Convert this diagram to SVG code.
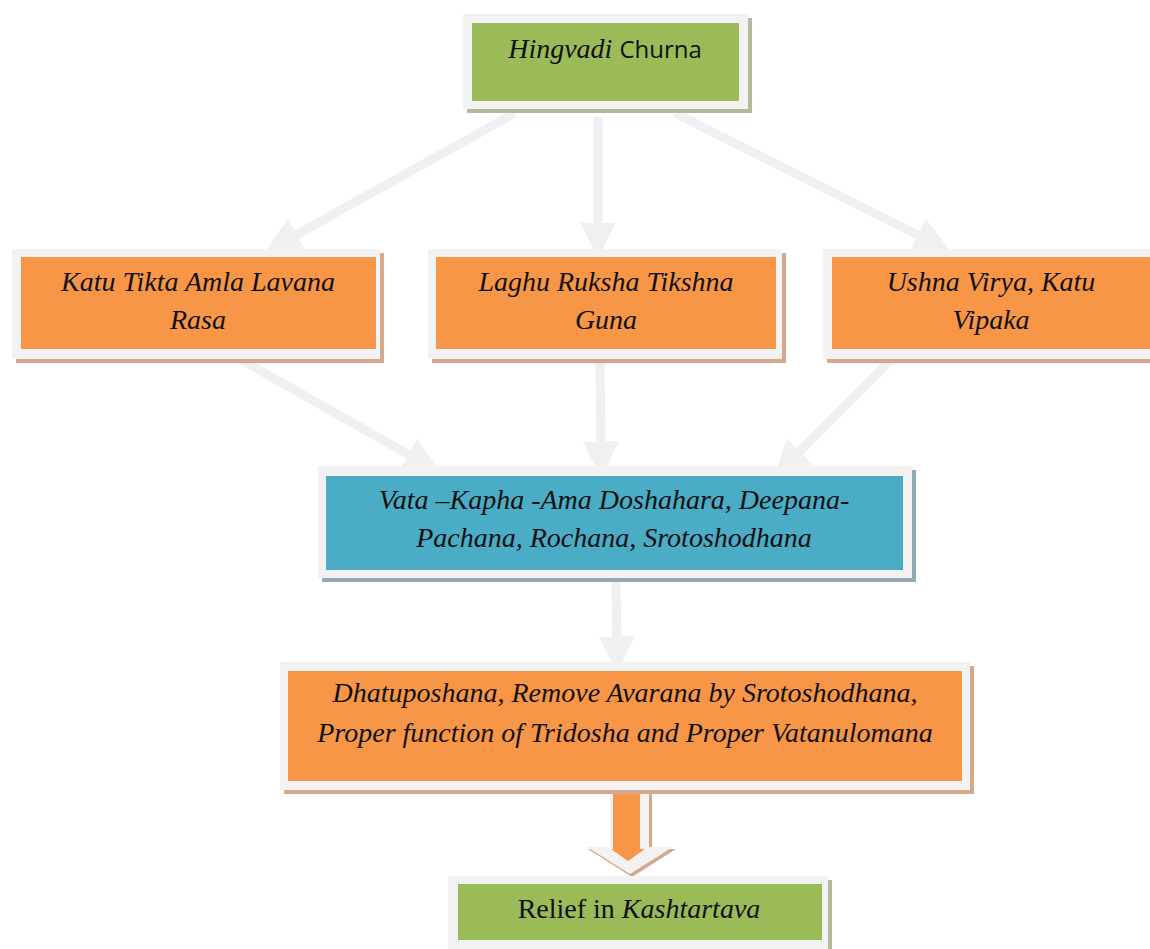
<svg xmlns="http://www.w3.org/2000/svg" width="1150" height="949" viewBox="0 0 1150 949">
<style>
.frame{fill:#f2f2f2}
.t{font-style:italic;font-size:28px;fill:#111;text-anchor:middle}
.up{font-style:normal}
.conn{stroke:#f0f0f0;stroke-width:9;fill:none}
</style>
<defs>
<marker id="ah" markerWidth="4" markerHeight="4" refX="1.5" refY="2" orient="auto" markerUnits="strokeWidth" viewBox="0 0 4 4">
<path d="M0,0 L4,2 L0,4 Z" fill="#f0f0f0"/>
</marker>
</defs>
<rect width="1150" height="949" fill="#fff"/>
<g id="connectors">
<line class="conn" x1="515" y1="113" x2="285" y2="241" marker-end="url(#ah)"/>
<line class="conn" x1="598" y1="117" x2="598" y2="236" marker-end="url(#ah)"/>
<line class="conn" x1="675" y1="113" x2="930" y2="241" marker-end="url(#ah)"/>
<line class="conn" x1="238" y1="358" x2="420" y2="461" marker-end="url(#ah)"/>
<line class="conn" x1="600" y1="358" x2="601" y2="455" marker-end="url(#ah)"/>
<line class="conn" x1="893" y1="358" x2="790" y2="461" marker-end="url(#ah)"/>
<line class="conn" x1="616" y1="580" x2="617" y2="650" marker-end="url(#ah)"/>
<g id="block-arrow">
<path d="M612,792 L652,792 L652,849 L676,849 L632,877 L588,849 L612,849 Z" fill="#d4a88a"/>
<path d="M610,790 L649,790 L649,847 L673,847 L630,874 L587,847 L610,847 Z" fill="#f2f2f2"/>
<path d="M613,790 L640,790 L640,849 L645,849 L628,861 L611,849 L613,849 Z" fill="#f79646"/>
</g>
</g>
<g font-family="Liberation Serif, serif">
<g id="node-hingvadi">
<rect x="467" y="18" width="285" height="95" fill="#b3ba9a"/>
<rect class="frame" x="463" y="14" width="285" height="95"/>
<rect x="472" y="23" width="267" height="78" fill="#9bbb59"/>
<text x="605" y="58" class="t" font-size="31">Hingvadi <tspan font-family="Open Sans, Liberation Sans, sans-serif" font-size="24" style="font-style:normal">Churna</tspan></text>
</g>
<g id="node-katu">
<rect x="16" y="253" width="368" height="110" fill="#d4a88a"/>
<rect class="frame" x="12" y="249" width="368" height="110"/>
<rect x="21" y="257" width="355" height="92" fill="#f79646"/>
<text x="198" y="291" class="t">Katu Tikta Amla Lavana</text>
<text x="198" y="329" class="t">Rasa</text>
</g>
<g id="node-laghu">
<rect x="432" y="253" width="354" height="110" fill="#d4a88a"/>
<rect class="frame" x="428" y="249" width="354" height="110"/>
<rect x="436" y="257" width="340" height="92" fill="#f79646"/>
<text x="606" y="291" class="t">Laghu Ruksha Tikshna</text>
<text x="606" y="329" class="t">Guna</text>
</g>
<g id="node-ushna">
<rect x="827" y="253" width="330" height="110" fill="#d4a88a"/>
<rect class="frame" x="823" y="249" width="330" height="110"/>
<rect x="832" y="257" width="320" height="92" fill="#f79646"/>
<text x="991" y="291" class="t">Ushna Virya, Katu</text>
<text x="991" y="329" class="t">Vipaka</text>
</g>
<g id="node-vata">
<rect x="322" y="470" width="594" height="112" fill="#93aab5"/>
<rect class="frame" x="318" y="466" width="594" height="112"/>
<rect x="326" y="476" width="577" height="94" fill="#4bacc6"/>
<text x="614" y="509" class="t">Vata –Kapha -Ama Doshahara, Deepana-</text>
<text x="614" y="547" class="t">Pachana, Rochana, Srotoshodhana</text>
</g>
<g id="node-dhatu">
<rect x="284" y="666" width="690" height="128" fill="#d4a88a"/>
<rect class="frame" x="280" y="662" width="690" height="128"/>
<rect x="288" y="671" width="674" height="110" fill="#f79646"/>
<text x="625" y="702" class="t">Dhatuposhana, Remove Avarana by Srotoshodhana,</text>
<text x="625" y="742" class="t">Proper function of Tridosha and Proper Vatanulomana</text>
</g>
<g id="node-relief">
<rect x="452" y="880" width="380" height="73" fill="#b3ba9a"/>
<rect class="frame" x="448" y="876" width="380" height="73"/>
<rect x="458" y="884" width="364" height="56" fill="#9bbb59"/>
<text x="639" y="918" class="t up">Relief in <tspan style="font-style:italic">Kashtartava</tspan></text>
</g>
</g>
</svg>
